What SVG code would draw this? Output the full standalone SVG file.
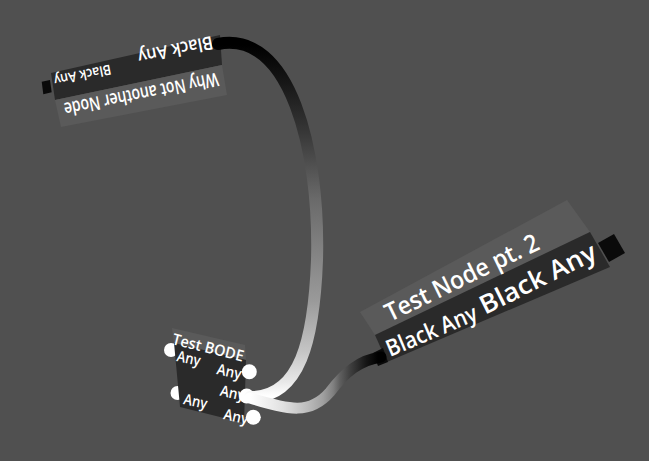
<svg xmlns="http://www.w3.org/2000/svg" width="649" height="461" viewBox="0 0 649 461">
<defs>
<linearGradient id="g1" gradientUnits="userSpaceOnUse" x1="0" y1="45" x2="0" y2="396">
<stop offset="0" stop-color="#000"/>
<stop offset="0.1" stop-color="#151515"/>
<stop offset="0.24" stop-color="#353535"/>
<stop offset="0.44" stop-color="#6a6a6a"/>
<stop offset="0.73" stop-color="#9a9a9a"/>
<stop offset="0.87" stop-color="#c4c4c4"/>
<stop offset="0.96" stop-color="#e8e8e8"/>
<stop offset="1" stop-color="#fff"/>
</linearGradient>
<linearGradient id="g2" gradientUnits="userSpaceOnUse" x1="250" y1="0" x2="378" y2="0">
<stop offset="0" stop-color="#fff"/>
<stop offset="0.26" stop-color="#e0e0e0"/>
<stop offset="0.45" stop-color="#bcbcbc"/>
<stop offset="0.57" stop-color="#a0a0a0"/>
<stop offset="0.65" stop-color="#808080"/>
<stop offset="0.7" stop-color="#606060"/>
<stop offset="0.78" stop-color="#404040"/>
<stop offset="0.91" stop-color="#151515"/>
<stop offset="1" stop-color="#000"/>
</linearGradient>
<style>
.hdr{fill:#5a5a5a}
.row{fill:#2a2a2a}
.t{font-family:"Open Sans","Noto Sans",sans-serif;font-weight:600;fill:#fff}
.pw{fill:#fff}
.pb{fill:#0a0a0a}
.wire{fill:none;stroke-linecap:round}
</style>
</defs>
<rect width="649" height="461" fill="#505050"/>
<g id="node-why">
<polygon class="pb" points="41.7,81.7 50,80 51.7,92.3 43.3,94.3"/>
<polygon class="row" points="51,73 220,35 222,65 55,100"/>
<polygon class="hdr" points="55,100 222,65 227,95 61,127"/>
<text class="t" font-size="19" textLength="157" lengthAdjust="spacingAndGlyphs" transform="translate(217,72.5) rotate(168.7)">Why Not another Node</text>
<text class="t" font-size="18.5" textLength="76" lengthAdjust="spacingAndGlyphs" transform="translate(211.5,36) rotate(168.7)">Black Any</text>
<text class="t" font-size="14" textLength="58" lengthAdjust="spacingAndGlyphs" transform="translate(110,64.5) rotate(168.7)">Black Any</text>
</g>
<g id="node-bode">
<circle class="pw" cx="171" cy="350" r="7"/>
<circle class="pw" cx="177.5" cy="393" r="7"/>
<polygon class="hdr" points="172,328 245,345 246,360 174,343"/>
<polygon class="row" points="174,343 246,360 244,423 180,407"/>
<circle class="pw" cx="249.3" cy="371.7" r="7.5"/>
<circle class="pw" cx="246.7" cy="396" r="7.5"/>
<circle class="pw" cx="253.3" cy="417.3" r="7.5"/>
<text class="t" font-size="15.5" textLength="73" lengthAdjust="spacingAndGlyphs" transform="translate(171.5,344) rotate(14)">Test BODE</text>
<text class="t" font-size="15" textLength="24" lengthAdjust="spacingAndGlyphs" transform="translate(176,361) rotate(12)">Any</text>
<text class="t" font-size="15" textLength="24" lengthAdjust="spacingAndGlyphs" transform="translate(182.7,404) rotate(12)">Any</text>
<text class="t" font-size="15" textLength="25" lengthAdjust="spacingAndGlyphs" transform="translate(216,374) rotate(12)">Any</text>
<text class="t" font-size="15" textLength="25" lengthAdjust="spacingAndGlyphs" transform="translate(219.3,395.5) rotate(12)">Any</text>
<text class="t" font-size="15" textLength="25" lengthAdjust="spacingAndGlyphs" transform="translate(222.7,419) rotate(12)">Any</text>
</g>
<g id="node-test2">
<polygon class="hdr" points="360,312 567,200 590,232 375,335"/>
<polygon class="row" points="375,335 590,232 610,267 387,362"/>
<polygon class="pb" points="373,353 383,348 388,362 378,366"/>
<polygon class="pb" points="598,243 614,234 625,253 609,262"/>
<text class="t" font-size="25" textLength="168" lengthAdjust="spacingAndGlyphs" transform="translate(390,322) rotate(-25.9)">Test Node pt. 2</text>
<text class="t" font-size="23" textLength="97" lengthAdjust="spacingAndGlyphs" transform="translate(390,357) rotate(-23)">Black Any</text>
<text class="t" font-size="26" textLength="127" lengthAdjust="spacingAndGlyphs" transform="translate(485,315) rotate(-26.5)">Black Any</text>
</g>
<g id="connectors">
<path class="wire" d="M 218 44 C 290 30, 320 150, 317 260 C 314 340, 300 398, 250 397" stroke="url(#g1)" stroke-width="12"/>
<path class="wire" d="M 250 398 C 290 410, 310 415, 330 392 C 345 372, 360 360, 381 357" stroke="url(#g2)" stroke-width="11"/>
</g>
</svg>
